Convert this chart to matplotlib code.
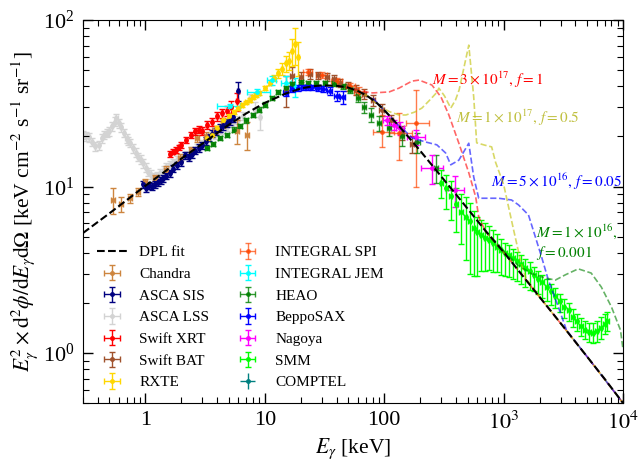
import numpy as np
import matplotlib
matplotlib.use('Agg')
import matplotlib.pyplot as plt
from matplotlib.ticker import FuncFormatter, LogLocator, NullFormatter

plt.rcParams['font.family'] = ['Liberation Serif', 'DejaVu Serif']
plt.rcParams['mathtext.fontset'] = 'stix'

# DPL fit
dpl_E = [0.3, 0.5, 0.7, 1, 1.5, 2, 3, 5, 7, 10, 15, 20, 25, 30, 40, 50, 60, 70, 85, 100,
         130, 160, 200, 250, 300, 400, 500, 700, 1000, 1500, 2000, 3000, 5000, 7000, 10000]
dpl_F = [5.25, 6.9, 8.3, 10.1, 12.5, 14.7, 18.1, 23.5, 27.5, 31.8, 36.2, 38.8, 40.0, 40.5, 40.3,
         39.3, 37.5, 35.5, 32.2, 28.8, 23.5, 19.8, 16.4, 13.5, 11.5, 8.95, 7.35, 5.45, 4.04, 2.81,
         2.17, 1.51, 0.95, 0.70, 0.5]

# PBH model curves (M in g, f)
red_E = [40, 55, 62, 80, 110, 133, 171, 196, 251, 299, 348, 422, 511, 584, 619, 708, 1000, 2000, 5000, 10000]
red_F = [40.3, 38.5, 37.5, 36.5, 37, 39, 43, 43.6, 40.7, 34.5, 26.9, 18.2, 12.1, 8.65, 6.56, 5.35,
         4.04, 2.17, 0.95, 0.5]

yel_E = [50, 60, 75, 91, 110, 133, 152, 180, 207, 245, 276, 287, 320, 361, 395, 424, 511, 562, 595,
         700, 794, 856, 1000, 1212, 1400, 1540, 2000, 5000, 10000]
yel_F = [39.3, 37.5, 34.5, 30.5, 28.2, 26.9, 26.9, 28, 29.6, 33.5, 36.8, 39.0, 35, 29.6, 33, 38, 70.7,
         34.5, 18.3, 17.7, 17.3, 14.0, 10.3, 5.5, 3.47, 2.8, 2.17, 0.95, 0.5]

blu_E = [80, 100, 126, 150, 171, 223, 276, 327, 361, 422, 511, 562, 619, 750, 909, 1165, 1334, 1615,
         1846, 2081, 2371, 2873, 3365, 5000, 10000]
blu_F = [34.0, 28.8, 24.0, 21.5, 19.6, 18.5, 17.8, 15.9, 13.5, 14.4, 18.2, 11.4, 8.5, 8.5, 8.5, 8.3,
         7.75, 6.75, 4.97, 3.77, 2.74, 1.89, 1.37, 0.95, 0.5]

grn_E = [700, 1000, 1300, 1700, 2239, 2712, 3300, 4217, 5412, 6579, 8000, 9528, 10000]
grn_F = [5.45, 4.1, 3.4, 3.0, 2.82, 2.74, 2.95, 3.2, 3.02, 2.49, 1.89, 1.37, 1.05]

# Data sets
chandra_E = [0.54, 0.63, 0.75, 0.87, 1.0, 1.2, 1.5, 1.96, 2.4, 2.7, 3.2, 3.8, 4.5, 5.9, 7.1]
chandra_F = [8.3, 7.8, 8.5, 9.25, 10.6, 11.3, 12.6, 14.9, 16.5, 19.5, 20.2, 22.0, 24.0, 21.5, 20.5]
chandra_err = [1.5, 0.8, 0.5, 0.5, 0.5, 0.5, 0.6, 0.7, 0.8, 1.0, 1.0, 1.2, 1.5, 3.5, 4.0]

sis_E = [0.96, 1.02, 1.08, 1.14, 1.2, 1.27, 1.34, 1.41, 1.5, 1.6, 1.71, 1.85, 2.0, 2.15, 2.3, 2.46,
         2.62, 2.8, 3.0, 3.2, 3.4, 3.6, 3.9, 4.2, 4.5, 4.8, 5.1, 5.4, 5.95]
sis_F = [10.3, 9.8, 10.2, 10.0, 10.3, 10.6, 10.9, 11.2, 11.6, 12.0, 12.8, 13.4, 14.0, 15.4, 15.0, 15.6,
         16.4, 17.0, 17.7, 18.8, 19.8, 20.8, 21.5, 22.5, 23.3, 24.2, 25.0, 26.0, 37.5]
sis_err = [0.5, 0.5, 0.5, 0.5, 0.5, 0.5, 0.5, 0.5, 0.5, 0.6, 0.6, 0.6, 0.7, 0.7, 0.7, 0.8,
           0.8, 0.9, 0.9, 1.0, 1.0, 1.1, 1.1, 1.2, 1.3, 1.4, 1.5, 1.7, 5.0]

lss_E = [0.30, 0.32, 0.335, 0.36, 0.38, 0.406, 0.43, 0.45, 0.473, 0.50, 0.53, 0.56, 0.573, 0.60, 0.62,
         0.66, 0.695, 0.72, 0.75, 0.79, 0.83, 0.87, 0.92, 0.96, 1.01, 1.06, 1.11, 1.17, 1.25, 1.33,
         1.42, 1.5, 1.6, 1.71, 1.85, 2.0, 2.2, 2.4, 2.7, 3.0, 3.4, 3.8, 4.3, 4.8, 5.4, 6.0, 6.6,
         7.5, 8.3, 9.2]
lss_F = [20.5, 20.0, 19.8, 18.5, 17.5, 17.7, 19.5, 20.5, 21.0, 21.5, 23.0, 24.5, 25.8, 24.0, 22.7,
         21.0, 19.5, 18.8, 18.3, 17.0, 16.0, 15.1, 14.5, 13.8, 13.0, 12.2, 11.8, 11.4, 11.6, 12.0,
         12.5, 13.1, 13.5, 14.0, 14.5, 15.0, 15.6, 16.4, 17.2, 18.2, 19.3, 20.4, 21.6, 22.8, 24.0,
         25.2, 26.5, 34.0, 29.0, 26.0]
lss_err = [1.2, 1.2, 1.2, 1.1, 1.1, 1.1, 1.2, 1.2, 1.3, 1.3, 1.4, 1.5, 1.6, 1.5, 1.4,
           1.3, 1.2, 1.1, 1.1, 1.0, 1.0, 0.9, 0.9, 0.8, 0.8, 0.7, 0.7, 0.7, 0.7, 0.7,
           0.7, 0.7, 0.7, 0.7, 0.7, 0.7, 0.8, 0.8, 0.8, 0.9, 0.9, 1.0, 1.0, 1.1, 1.2,
           1.3, 1.4, 2.0, 3.0, 4.0]

xrt_E = [1.6, 1.7, 1.8, 1.9, 2.0, 2.2, 2.4, 2.6, 2.8, 3.0, 3.3, 3.6, 4.0, 4.4, 4.8, 5.2, 5.85]
xrt_F = [15.7, 16.2, 16.6, 17.2, 17.8, 19.0, 20.5, 21.5, 22.0, 21.5, 23.5, 24.5, 26.5, 27.5, 28.5,
         30.0, 32.5]
xrt_err = [0.6, 0.6, 0.6, 0.6, 0.7, 0.8, 0.9, 1.0, 1.0, 1.2, 1.3, 1.4, 1.6, 1.8, 2.0, 2.5, 4.0]

bat_E = [15, 17, 20, 24, 28, 33, 38, 43, 50, 58, 68, 80, 95, 115, 140, 170]
bat_F = [38, 46, 45.5, 47.5, 46.5, 45.5, 44.5, 42, 40, 38, 36, 33, 29, 25, 21, 18]
bat_err = [8, 6, 3, 3, 2.5, 2.5, 2.5, 2.5, 2.5, 2.5, 2.5, 2.5, 2.5, 2, 2, 2]

rxte_E = [3.3, 3.6, 4.0, 4.5, 5.0, 5.5, 6.0, 6.5, 7.0, 7.5, 8.0, 8.5, 9.0, 10, 11, 12, 13, 14, 15,
          16, 17, 18, 19]
rxte_F = [19.5, 20.5, 22.5, 25, 26.5, 28, 29.5, 31, 32, 33, 34.5, 35.5, 36.5, 39, 42, 45, 48, 51, 55,
          57, 65, 72, 60]
rxte_err = [0.5, 0.5, 0.5, 0.6, 0.6, 0.7, 0.7, 0.8, 0.8, 0.9, 0.9, 1.0, 1.0, 1.2, 1.5, 2, 3, 4, 6,
            7, 12, 18, 14]

spi_E = [23, 30, 40, 52, 62, 96, 133, 184]
spi_F = [49, 47, 43, 40, 37, 21.3, 21, 24]
spi_elo = [2, 2, 2, 2, 2.5, 4, 6.5, 14]
spi_ehi = [2, 2, 2, 2, 2.5, 5.5, 6.5, 14]
spi_xlo = [2, 3, 4, 5, 6, 16, 23, 32]
spi_xhi = [2, 3, 4, 5, 6, 24, 38, 53]

jem_E = [5.1, 8.6, 11.4, 15.2, 18]
jem_F = [30.5, 36.8, 43.5, 42, 39.6]
jem_err = [1, 1.5, 2.5, 4, 5]
jem_xlo = [1.1, 1.5, 1.0, 1.5, 1.5]
jem_xhi = [1.1, 2.4, 1.0, 1.5, 2.0]

heao_E = [3.3, 3.7, 4.2, 4.8, 5.5, 6.2, 7.0, 8.0, 9.0, 10, 11.5, 13, 15, 17, 20, 23, 27, 32, 38,
          45, 52, 60, 68, 78, 90, 110, 140, 190, 270]
heao_F = [17, 18, 19.5, 20.5, 22, 23.2, 25, 27, 29, 31, 34, 37, 39, 41.5, 42.5, 42, 42, 42, 41.5,
          40, 38, 34, 30, 27, 24, 22.5, 20, 18.5, 13]
heao_err = [0.5, 0.5, 0.6, 0.6, 0.7, 0.7, 0.8, 0.8, 0.9, 1, 1, 1.1, 1.2, 1.2, 1.3, 1.3, 1.3, 1.3,
            1.4, 1.5, 1.6, 2, 2.2, 2.5, 2.5, 2.5, 2.5, 2.5, 2.5]

sax_E = [15, 17, 19, 21, 23, 25, 28, 31, 35, 40, 45]
sax_F = [36.5, 38.5, 39, 39.5, 39.5, 39.5, 39, 38.5, 37.5, 35, 34.5]
sax_err = [1.5, 1.5, 1.5, 1.5, 1.5, 1.5, 1.5, 1.5, 2, 2.5, 3]

nag_E = [105, 120, 135, 185, 250, 390]
nag_F = [25, 23.5, 22.5, 19.8, 12.9, 9.5]
nag_err = [1.5, 1.5, 2, 2, 2.5, 2]
nag_xlo = [8, 8, 10, 30, 45, 60]
nag_xhi = [8, 8, 12, 35, 60, 80]

smm_E = [300, 330, 360, 400, 440, 480, 520, 560, 600, 650, 700, 760, 820, 880, 950, 1030, 1110,
         1200, 1300, 1400, 1520, 1650, 1800, 1950, 2100, 2300, 2500, 2700, 2950, 3200, 3500, 3800,
         4100, 4450, 4800, 5200, 5600, 6000, 6500, 7000, 7400]
smm_F = [10.5, 9.8, 8.8, 7.8, 7.0, 6.6, 6.2, 5.6, 5.3, 5.1, 4.9, 4.75, 4.55, 4.35, 4.15, 4.0, 3.85,
         3.7, 3.55, 3.4, 3.25, 3.1, 2.95, 2.8, 2.65, 2.5, 2.35, 2.2, 2.05, 1.9, 1.8, 1.65, 1.55,
         1.45, 1.38, 1.33, 1.32, 1.35, 1.42, 1.5, 1.55]
smm_elo = [2, 2.5, 2.5, 2.5, 2.5, 3, 3.2, 2.7, 2.4, 2.0, 1.8, 1.6, 1.5, 1.3, 1.2, 1.1, 1.0,
           0.9, 0.85, 0.8, 0.75, 0.7, 0.6, 0.55, 0.5, 0.45, 0.4, 0.35, 0.3, 0.28, 0.25, 0.22,
           0.2, 0.18, 0.17, 0.17, 0.17, 0.18, 0.2, 0.2, 0.2]
smm_ehi = [2, 2, 2, 2, 2, 2, 1.8, 1.5, 1.3, 1.2, 1.1, 1.0, 0.9, 0.8, 0.7, 0.6, 0.6,
           0.5, 0.5, 0.45, 0.4, 0.4, 0.35, 0.3, 0.3, 0.28, 0.25, 0.25, 0.22, 0.2, 0.2, 0.18,
           0.17, 0.17, 0.17, 0.18, 0.2, 0.2, 0.22, 0.22, 0.2]

comptel_E = []
comptel_F = []

fig, ax = plt.subplots(figsize=(6.38, 4.67), dpi=100)
fig.subplots_adjust(left=0.130, right=0.9765, top=0.957, bottom=0.137)

ax.plot(dpl_E, dpl_F, color='black', ls='--', lw=1.5, zorder=10, label='DPL fit')

eb = dict(fmt='o', ms=2.5, elinewidth=1.0, capsize=2, capthick=1.0)


def frac(E, f):
    # small channel half-width for dense data sets
    return np.asarray(E) * f


ax.errorbar(chandra_E, chandra_F, yerr=chandra_err, xerr=frac(chandra_E, 0.04), color='peru', label='Chandra', **eb)
ax.errorbar(sis_E, sis_F, yerr=sis_err, xerr=frac(sis_E, 0.02), color='navy', label='ASCA SIS', **eb)
ax.errorbar(lss_E, lss_F, yerr=lss_err, xerr=frac(lss_E, 0.02), color='lightgray', label='ASCA LSS', zorder=1, **eb)
ax.errorbar(xrt_E, xrt_F, yerr=xrt_err, xerr=frac(xrt_E, 0.02), color='red', label='Swift XRT', **eb)
ax.errorbar(bat_E, bat_F, yerr=bat_err, xerr=frac(bat_E, 0.04), color='sienna', label='Swift BAT', **eb)
ax.errorbar(rxte_E, rxte_F, yerr=rxte_err, xerr=frac(rxte_E, 0.02), color='gold', label='RXTE', **eb)
ax.errorbar(spi_E, spi_F, yerr=[spi_elo, spi_ehi], xerr=[spi_xlo, spi_xhi], color='orangered', alpha=0.7,
            label='INTEGRAL SPI', **eb)
ax.errorbar(jem_E, jem_F, yerr=jem_err, xerr=[jem_xlo, jem_xhi], color='cyan', label='INTEGRAL JEM', **eb)
ax.errorbar(heao_E, heao_F, yerr=heao_err, xerr=frac(heao_E, 0.04), color='green', alpha=0.8, label='HEAO', **eb)
ax.errorbar(sax_E, sax_F, yerr=sax_err, xerr=frac(sax_E, 0.05), color='blue', label='BeppoSAX', **eb)
ax.errorbar(nag_E, nag_F, yerr=nag_err, xerr=[nag_xlo, nag_xhi], color='magenta', label='Nagoya', **eb)
ax.errorbar(smm_E, smm_F, yerr=[smm_elo, smm_ehi], xerr=frac(smm_E, 0.03), color='lime', label='SMM', **eb)
ax.errorbar(comptel_E, comptel_F, yerr=[], xerr=[], color='teal', label='COMPTEL', **eb)

# PBH model curves
ax.plot(red_E, red_F, ls='--', color='red', alpha=0.6, lw=1.2, zorder=8)
ax.plot(yel_E, yel_F, ls='--', color='y', alpha=0.6, lw=1.2, zorder=8)
ax.plot(blu_E, blu_F, ls='--', color='blue', alpha=0.6, lw=1.2, zorder=8)
ax.plot(grn_E, grn_F, ls='--', color='green', alpha=0.6, lw=1.2, zorder=8)

ax.text(251, 43.6, r'$M=3\times10^{17},\,f=1$', color='red', fontsize=11, va='center')
ax.text(398, 25.8, r'$M=1\times10^{17},\,f=0.5$', color='#c0c040', fontsize=11, va='center')
ax.text(781, 10.65, r'$M=5\times10^{16},\,f=0.05$', color='blue', fontsize=11, va='center')
ax.text(1853, 4.64, '$M=1\\times10^{16},$\n$f=0.001$', color='green', fontsize=11, va='center')

ax.set_xscale('log')
ax.set_yscale('log')
ax.set_xlim(0.3, 1e4)
ax.set_ylim(0.5, 100)

xlab = {1: '1', 10: '10', 100: '100', 1000: r'$10^3$', 10000: r'$10^4$'}
ax.xaxis.set_major_locator(LogLocator(base=10))
ax.xaxis.set_major_formatter(FuncFormatter(lambda v, p: xlab.get(int(round(v)), '')))
ax.xaxis.set_minor_formatter(NullFormatter())

ax.tick_params(which='both', direction='in', top=True, right=True, labelsize=16)
ax.tick_params(which='major', length=7, width=1, pad=6)
ax.tick_params(which='minor', length=4, width=0.8)

ax.set_xlabel(r'$E_\gamma$ [keV]', fontsize=15.5, labelpad=2)
ax.set_ylabel(r'$E_\gamma^2\times\mathrm{d}^2\phi/\mathrm{d}E_\gamma\mathrm{d}\Omega$ [keV cm$^{-2}$ s$^{-1}$ sr$^{-1}$]',
              fontsize=15.5, labelpad=2)

ax.legend(loc='lower left', ncol=2, frameon=False, fontsize=11, handlelength=2.0,
          columnspacing=1.5, labelspacing=0.52)

plt.savefig('out.png', dpi=100)
